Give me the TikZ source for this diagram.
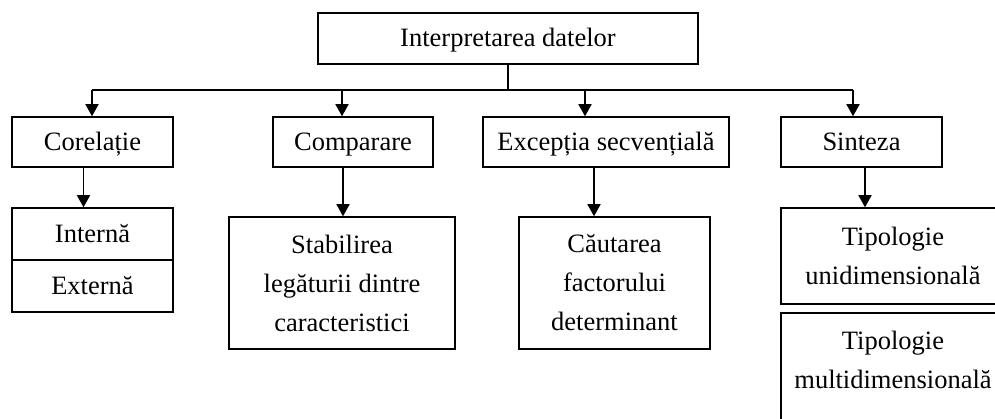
\documentclass[tikz,border=0pt]{standalone}
\usepackage{fontspec}
\setmainfont{Liberation Serif}
\usetikzlibrary{arrows.meta}
\begin{document}
\begin{tikzpicture}[
    x=1pt, y=-1pt,
    box/.style={rectangle, draw=black, line width=1.5pt, inner sep=0pt, align=center,
        font=\fontsize{26.5}{39}\selectfont},
    onebox/.style={box, text height=21pt, text depth=4pt},
    arr/.style={line width=1.5pt, -{Triangle[width=13pt,length=12pt]}},
]
    \useasboundingbox (0,0) rectangle (995,419);
    \clip (0,0) rectangle (995,419);

    %Nodes
    \node[onebox, minimum width=380pt, minimum height=51pt] (top) at (508,38.5) {Interpretarea datelor};

    \node[onebox, minimum width=161pt, minimum height=50pt] (corel) at (92.5,142) {Corelație};
    \node[onebox, minimum width=160pt, minimum height=50pt] (comp) at (353,142) {Comparare};
    \node[onebox, minimum width=246pt, minimum height=50pt] (exc) at (606,142) {Excepția secvențială};
    \node[onebox, minimum width=161pt, minimum height=50pt] (sint) at (861.5,142) {Sinteza};

    \node[onebox, minimum width=161pt, minimum height=52pt] (interna) at (92.5,234) {Internă};
    \node[onebox, minimum width=161pt, minimum height=52pt] (externa) at (92.5,286) {Externă};
    \node[box, minimum width=226pt, minimum height=132pt] (stab) at (342,283) {Stabilirea\\legăturii dintre\\caracteristici};
    \node[box, minimum width=191pt, minimum height=132pt] (caut) at (614.5,283) {Căutarea\\factorului\\determinant};
    \node[box, minimum width=224pt, minimum height=96pt] (unid) at (893,256) {Tipologie\\unidimensională};
    \node[box, minimum width=224pt, minimum height=132pt] (multid) at (893,379) {Tipologie\\multidimensională\\ };

    %Lines
    \coordinate (bus) at (top.south |- 0,90);
    \coordinate (b1) at (92,90);
    \coordinate (b2) at (342,90);
    \coordinate (b3) at (585,90);
    \coordinate (b4) at (853,90);
    \draw[line width=1.5pt] (top.south) -- (bus);
    \draw[line width=1.5pt] (b1) -- (b4);
    \draw[arr] (b1) -- (b1 |- corel.north);
    \draw[arr] (b2) -- (b2 |- comp.north);
    \draw[arr] (b3) -- (b3 |- exc.north);
    \draw[arr] (b4) -- (b4 |- sint.north);

    \draw[arr] ([xshift=-9pt]corel.south) -- ([xshift=-9pt]corel.south |- interna.north);
    \draw[arr] ([xshift=-10pt]comp.south) -- ([xshift=-10pt]comp.south |- stab.north);
    \draw[arr] ([xshift=-12pt]exc.south) -- ([xshift=-12pt]exc.south |- caut.north);
    \draw[arr] ([xshift=3.5pt]sint.south) -- ([xshift=3.5pt]sint.south |- unid.north);
\end{tikzpicture}
\end{document}
